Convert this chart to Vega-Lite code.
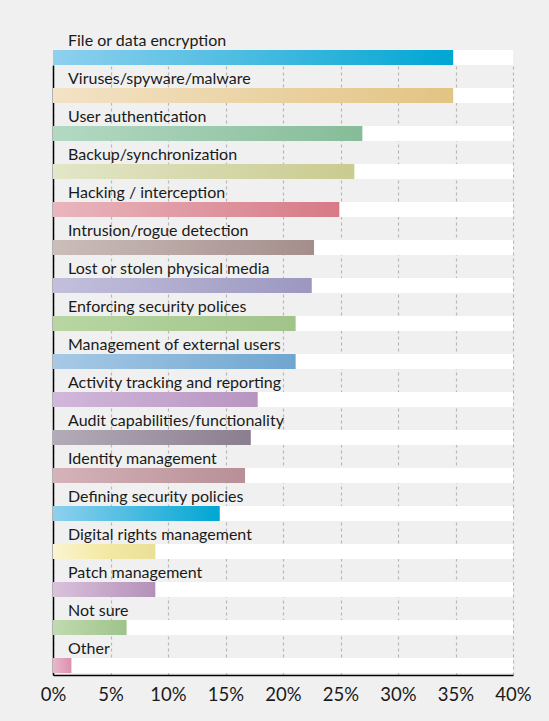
{
  "$schema": "https://vega.github.io/schema/vega-lite/v6.json",
  "width": 460,
  "height": 610,
  "autosize": {"type": "none"},
  "padding": {"left": 53, "top": 65, "right": 36, "bottom": 46},
  "background": "#f0f0f0",
  "config": {"view": {"stroke": null}, "font": "Lato"},
  "data": {"values": [
    {"cat": "File or data encryption", "rank": 1, "pct": 34.8},
    {"cat": "Viruses/spyware/malware", "rank": 2, "pct": 34.8},
    {"cat": "User authentication", "rank": 3, "pct": 26.9},
    {"cat": "Backup/synchronization", "rank": 4, "pct": 26.2},
    {"cat": "Hacking / interception", "rank": 5, "pct": 24.9},
    {"cat": "Intrusion/rogue detection", "rank": 6, "pct": 22.7},
    {"cat": "Lost or stolen physical media", "rank": 7, "pct": 22.5},
    {"cat": "Enforcing security polices", "rank": 8, "pct": 21.1},
    {"cat": "Management of external users", "rank": 9, "pct": 21.1},
    {"cat": "Activity tracking and reporting", "rank": 10, "pct": 17.8},
    {"cat": "Audit capabilities/functionality", "rank": 11, "pct": 17.2},
    {"cat": "Identity management", "rank": 12, "pct": 16.7},
    {"cat": "Defining security policies", "rank": 13, "pct": 14.5},
    {"cat": "Digital rights management", "rank": 14, "pct": 8.9},
    {"cat": "Patch management", "rank": 15, "pct": 8.9},
    {"cat": "Not sure", "rank": 16, "pct": 6.4},
    {"cat": "Other", "rank": 17, "pct": 1.6}
  ]},
  "encoding": {
    "y": {"field": "rank", "type": "quantitative",
      "scale": {"domain": [1.197, 17.25], "reverse": true, "nice": false, "zero": false, "padding": 0},
      "axis": {"labels": false, "ticks": false, "grid": false, "domain": true, "domainColor": "#000000", "domainWidth": 1.5, "title": null}}
  },
  "layer": [
    {
      "mark": {"type": "bar", "orient": "horizontal", "height": 15, "color": "#ffffff"},
      "encoding": {
        "x": {"datum": 40, "type": "quantitative",
          "scale": {"domain": [0, 40], "nice": false, "padding": 0},
          "axis": {"values": [0, 5, 10, 15, 20, 25, 30, 35, 40], "labelExpr": "datum.value + '%'",
            "grid": true, "gridDash": [3, 3], "gridColor": "#b8b8b8", "gridWidth": 1.2,
            "ticks": false, "domainColor": "#000000", "domainWidth": 1.5, "labelFlush": false,
            "labelFont": "Lato", "labelFontSize": 18.5, "labelColor": "#1a1a1a", "labelPadding": 10,
            "title": null}}
      }
    },
    {"transform": [{"filter": "datum.rank == 1"}], "mark": {"type": "bar", "orient": "horizontal", "height": 15, "color": {"gradient": "linear", "stops": [{"offset": 0, "color": "#8fd0ee"}, {"offset": 1, "color": "#00a6d3"}]}}, "encoding": {"x": {"field": "pct", "type": "quantitative"}}},
    {"transform": [{"filter": "datum.rank == 2"}], "mark": {"type": "bar", "orient": "horizontal", "height": 15, "color": {"gradient": "linear", "stops": [{"offset": 0, "color": "#f3e2c6"}, {"offset": 1, "color": "#e2c483"}]}}, "encoding": {"x": {"field": "pct", "type": "quantitative"}}},
    {"transform": [{"filter": "datum.rank == 3"}], "mark": {"type": "bar", "orient": "horizontal", "height": 15, "color": {"gradient": "linear", "stops": [{"offset": 0, "color": "#b3d9c3"}, {"offset": 1, "color": "#86bc98"}]}}, "encoding": {"x": {"field": "pct", "type": "quantitative"}}},
    {"transform": [{"filter": "datum.rank == 4"}], "mark": {"type": "bar", "orient": "horizontal", "height": 15, "color": {"gradient": "linear", "stops": [{"offset": 0, "color": "#e3e6c8"}, {"offset": 1, "color": "#c9cb8f"}]}}, "encoding": {"x": {"field": "pct", "type": "quantitative"}}},
    {"transform": [{"filter": "datum.rank == 5"}], "mark": {"type": "bar", "orient": "horizontal", "height": 15, "color": {"gradient": "linear", "stops": [{"offset": 0, "color": "#e9b6be"}, {"offset": 1, "color": "#d67a86"}]}}, "encoding": {"x": {"field": "pct", "type": "quantitative"}}},
    {"transform": [{"filter": "datum.rank == 6"}], "mark": {"type": "bar", "orient": "horizontal", "height": 15, "color": {"gradient": "linear", "stops": [{"offset": 0, "color": "#cbbdba"}, {"offset": 1, "color": "#a48e8c"}]}}, "encoding": {"x": {"field": "pct", "type": "quantitative"}}},
    {"transform": [{"filter": "datum.rank == 7"}], "mark": {"type": "bar", "orient": "horizontal", "height": 15, "color": {"gradient": "linear", "stops": [{"offset": 0, "color": "#c3c0dd"}, {"offset": 1, "color": "#9b97bf"}]}}, "encoding": {"x": {"field": "pct", "type": "quantitative"}}},
    {"transform": [{"filter": "datum.rank == 8"}], "mark": {"type": "bar", "orient": "horizontal", "height": 15, "color": {"gradient": "linear", "stops": [{"offset": 0, "color": "#b8d6a2"}, {"offset": 1, "color": "#a1c48b"}]}}, "encoding": {"x": {"field": "pct", "type": "quantitative"}}},
    {"transform": [{"filter": "datum.rank == 9"}], "mark": {"type": "bar", "orient": "horizontal", "height": 15, "color": {"gradient": "linear", "stops": [{"offset": 0, "color": "#a7c9e6"}, {"offset": 1, "color": "#6fa6cf"}]}}, "encoding": {"x": {"field": "pct", "type": "quantitative"}}},
    {"transform": [{"filter": "datum.rank == 10"}], "mark": {"type": "bar", "orient": "horizontal", "height": 15, "color": {"gradient": "linear", "stops": [{"offset": 0, "color": "#d1b8da"}, {"offset": 1, "color": "#b795c2"}]}}, "encoding": {"x": {"field": "pct", "type": "quantitative"}}},
    {"transform": [{"filter": "datum.rank == 11"}], "mark": {"type": "bar", "orient": "horizontal", "height": 15, "color": {"gradient": "linear", "stops": [{"offset": 0, "color": "#b3abb8"}, {"offset": 1, "color": "#8b7e8f"}]}}, "encoding": {"x": {"field": "pct", "type": "quantitative"}}},
    {"transform": [{"filter": "datum.rank == 12"}], "mark": {"type": "bar", "orient": "horizontal", "height": 15, "color": {"gradient": "linear", "stops": [{"offset": 0, "color": "#d4b3b9"}, {"offset": 1, "color": "#b88f96"}]}}, "encoding": {"x": {"field": "pct", "type": "quantitative"}}},
    {"transform": [{"filter": "datum.rank == 13"}], "mark": {"type": "bar", "orient": "horizontal", "height": 15, "color": {"gradient": "linear", "stops": [{"offset": 0, "color": "#8fd0ee"}, {"offset": 1, "color": "#00a6d3"}]}}, "encoding": {"x": {"field": "pct", "type": "quantitative"}}},
    {"transform": [{"filter": "datum.rank == 14"}], "mark": {"type": "bar", "orient": "horizontal", "height": 15, "color": {"gradient": "linear", "stops": [{"offset": 0, "color": "#faf4d2"}, {"offset": 0.5, "color": "#f4e9a4"}, {"offset": 1, "color": "#ebe09a"}]}}, "encoding": {"x": {"field": "pct", "type": "quantitative"}}},
    {"transform": [{"filter": "datum.rank == 15"}], "mark": {"type": "bar", "orient": "horizontal", "height": 15, "color": {"gradient": "linear", "stops": [{"offset": 0, "color": "#d9c2dc"}, {"offset": 1, "color": "#b491b8"}]}}, "encoding": {"x": {"field": "pct", "type": "quantitative"}}},
    {"transform": [{"filter": "datum.rank == 16"}], "mark": {"type": "bar", "orient": "horizontal", "height": 15, "color": {"gradient": "linear", "stops": [{"offset": 0, "color": "#c1dbb0"}, {"offset": 1, "color": "#9ec38a"}]}}, "encoding": {"x": {"field": "pct", "type": "quantitative"}}},
    {"transform": [{"filter": "datum.rank == 17"}], "mark": {"type": "bar", "orient": "horizontal", "height": 15, "color": {"gradient": "linear", "stops": [{"offset": 0, "color": "#e8b8cc"}, {"offset": 1, "color": "#dc8fb0"}]}}, "encoding": {"x": {"field": "pct", "type": "quantitative"}}},
    {
      "mark": {"type": "text", "align": "left", "baseline": "alphabetic", "dx": 15, "dy": -12, "font": "Lato", "fontSize": 16, "color": "#1a1a1a"},
      "encoding": {
        "x": {"datum": 0, "type": "quantitative"},
        "text": {"field": "cat"}
      }
    }
  ]
}
